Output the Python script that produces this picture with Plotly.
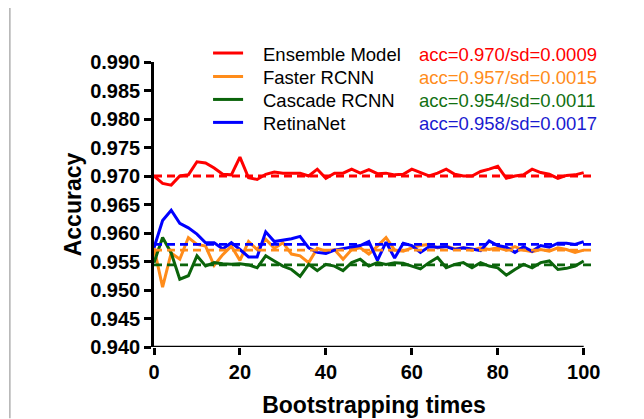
import plotly.graph_objects as go

# ---------------- data ----------------
bootstrap = [0, 2, 4, 6, 8, 10, 12, 14, 16, 18, 20, 22, 24, 26, 28, 30, 32, 34, 36, 38, 40,
             42, 44, 46, 48, 50, 52, 54, 56, 58, 60, 62, 64, 66, 68, 70, 72, 74, 76, 78, 80,
             82, 84, 86, 88, 90, 92, 94, 96, 98, 100]

ensemble = [0.9700, 0.9687, 0.9684, 0.9700, 0.9702, 0.9725, 0.9723, 0.9714, 0.9703, 0.9702,
            0.9733, 0.9697, 0.9694, 0.9703, 0.9707, 0.9705, 0.9705, 0.9705, 0.9700, 0.9712,
            0.9696, 0.9705, 0.9705, 0.9712, 0.9705, 0.9711, 0.9704, 0.9705, 0.9702, 0.9703,
            0.9712, 0.9706, 0.9700, 0.9705, 0.9712, 0.9703, 0.9700, 0.9700, 0.9708, 0.9712,
            0.9717, 0.9696, 0.9700, 0.9702, 0.9712, 0.9706, 0.9703, 0.9696, 0.9701, 0.9702,
            0.9706]

faster = [0.9574, 0.9505, 0.9565, 0.9554, 0.9592, 0.9580, 0.9577, 0.9543, 0.9562, 0.9577,
          0.9552, 0.9585, 0.9571, 0.9589, 0.9573, 0.9583, 0.9563, 0.9560, 0.9548, 0.9573,
          0.9568, 0.9571, 0.9554, 0.9571, 0.9574, 0.9563, 0.9577, 0.9592, 0.9570, 0.9568,
          0.9574, 0.9578, 0.9580, 0.9574, 0.9577, 0.9572, 0.9574, 0.9570, 0.9574, 0.9571,
          0.9574, 0.9570, 0.9576, 0.9570, 0.9567, 0.9571, 0.9568, 0.9574, 0.9571, 0.9566,
          0.9570]

cascade = [0.9548, 0.9592, 0.9565, 0.9519, 0.9525, 0.9560, 0.9542, 0.9548, 0.9546, 0.9545,
           0.9546, 0.9544, 0.9539, 0.9560, 0.9551, 0.9542, 0.9536, 0.9524, 0.9545, 0.9534,
           0.9545, 0.9542, 0.9534, 0.9548, 0.9554, 0.9542, 0.9548, 0.9545, 0.9548, 0.9547,
           0.9542, 0.9537, 0.9548, 0.9557, 0.9539, 0.9545, 0.9548, 0.9539, 0.9548, 0.9542,
           0.9539, 0.9526, 0.9536, 0.9545, 0.9539, 0.9548, 0.9551, 0.9536, 0.9538, 0.9542,
           0.9551]

retina = [0.9574, 0.9622, 0.9640, 0.9617, 0.9609, 0.9598, 0.9583, 0.9583, 0.9572, 0.9583,
          0.9571, 0.9558, 0.9558, 0.9602, 0.9585, 0.9587, 0.9590, 0.9594, 0.9574, 0.9566,
          0.9564, 0.9570, 0.9573, 0.9575, 0.9578, 0.9585, 0.9552, 0.9584, 0.9556, 0.9582,
          0.9578, 0.9566, 0.9576, 0.9575, 0.9576, 0.9571, 0.9574, 0.9572, 0.9569, 0.9586,
          0.9578, 0.9575, 0.9566, 0.9576, 0.9568, 0.9578, 0.9575, 0.9582, 0.9582, 0.9580,
          0.9585]

series_names = ["Ensemble Model", "Faster RCNN", "Cascade RCNN", "RetinaNet"]
series_values = [ensemble, faster, cascade, retina]
mean_acc = [0.970, 0.957, 0.9544, 0.958]
stat_labels = ["acc=0.970/sd=0.0009", "acc=0.957/sd=0.0015",
               "acc=0.954/sd=0.0011", "acc=0.958/sd=0.0017"]
mean_span = [0, 102]

x_ticks = [0, 20, 40, 60, 80, 100]
y_ticks = [0.940, 0.945, 0.950, 0.955, 0.960, 0.965, 0.970, 0.975, 0.980, 0.985, 0.990]
y_ticktext = ["%.3f" % v for v in y_ticks]

# ---------------- style ----------------
line_colors = ["#ff0000", "#ff8c1a", "#0b640b", "#0000ff"]
text_colors = ["#ff0000", "#ff8c1a", "#127012", "#1a1ad0"]
FONT = "Liberation Sans, Arial, sans-serif"

# page has an 8px body margin; figure sized to fit the window
OFF = 8
W, H = 644 - OFF, 419 - OFF
ML, MT = 154 - OFF, 62 - OFF
MR = W - (593.6 - OFF)
MB = H - (347.5 - OFF)
PW = W - ML - MR
PH = H - MT - MB


def px_x(p):
    """page pixel x -> paper coordinate"""
    return (p - OFF - ML) / PW


def px_y(p):
    """page pixel y -> paper coordinate"""
    return (H - MB - (p - OFF)) / PH


fig = go.Figure()

for name, vals, col in zip(series_names, series_values, line_colors):
    fig.add_trace(go.Scatter(x=bootstrap, y=vals, mode="lines", name=name,
                             line=dict(color=col, width=3), showlegend=False))

for m, col in zip(mean_acc, line_colors):
    fig.add_trace(go.Scatter(x=mean_span, y=[m, m], mode="lines", showlegend=False,
                             hoverinfo="skip",
                             line=dict(color=col, width=2.8, dash="8px,5px")))

annotations = []
shapes = []
row_y = [54, 77.5, 100.5, 123.5]
for name, lab, lcol, tcol, ry in zip(series_names, stat_labels, line_colors, text_colors, row_y):
    shapes.append(dict(type="line", xref="paper", yref="paper",
                       x0=px_x(213), x1=px_x(243), y0=px_y(ry - 1), y1=px_y(ry - 1),
                       line=dict(color=lcol, width=3)))
    annotations.append(dict(text=name, xref="paper", yref="paper",
                            x=px_x(261), y=px_y(ry), xanchor="left", yanchor="middle",
                            showarrow=False, font=dict(family=FONT, size=18.5, color="black")))
    annotations.append(dict(text=lab, xref="paper", yref="paper",
                            x=px_x(417), y=px_y(ry), xanchor="left", yanchor="middle",
                            showarrow=False, font=dict(family=FONT, size=18.5, color=tcol)))

shapes += [
    # x axis line
    dict(type="line", xref="x", yref="y", x0=0, x1=100, y0=0.94, y1=0.94,
         line=dict(color="black", width=2.6), layer="above"),
    # outer grey frame line (left)
    dict(type="line", xref="paper", yref="paper", x0=px_x(10), x1=px_x(10),
         y0=px_y(0), y1=px_y(419), line=dict(color="#b0b0b0", width=1.5)),
]

fig.update_layout(
    width=W, height=H,
    margin=dict(l=ML, r=MR, t=MT, b=MB, pad=0, autoexpand=False),
    paper_bgcolor="white", plot_bgcolor="white",
    font=dict(family=FONT, color="black"),
    showlegend=False,
    xaxis=dict(range=[0, 102.4], tickmode="array", tickvals=x_ticks,
               ticks="outside", ticklen=7, tickwidth=2.6, tickcolor="black",
               showline=False, showgrid=False, zeroline=False, automargin=False,
               tickfont=dict(family=FONT, size=20, color="black", weight="bold"),
               title=dict(text="Bootstrapping times", standoff=14,
                          font=dict(family=FONT, size=23, color="black", weight="bold"))),
    yaxis=dict(range=[0.94, 0.99], tickmode="array", tickvals=y_ticks, ticktext=y_ticktext,
               ticks="outside", ticklen=7, tickwidth=2.6, tickcolor="black",
               showline=True, linewidth=2.6, linecolor="black", automargin=False,
               showgrid=False, zeroline=False,
               tickfont=dict(family=FONT, size=20, color="black", weight="bold"),
               title=dict(text="Accuracy", standoff=3,
                          font=dict(family=FONT, size=23, color="black", weight="bold"))),
    annotations=annotations,
    shapes=shapes,
)

fig.write_html("out.html")
